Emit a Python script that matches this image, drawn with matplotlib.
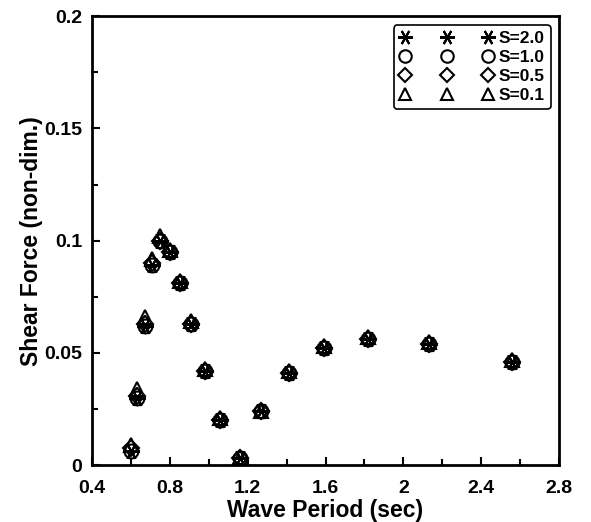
import matplotlib.pyplot as plt
from matplotlib.ticker import MultipleLocator

plt.rcParams['font.family'] = ['Liberation Sans', 'DejaVu Sans']
plt.rcParams['font.weight'] = 'bold'

# wave period (sec)
period = [0.60, 0.63, 0.67, 0.71, 0.75, 0.80, 0.85, 0.91, 0.98, 1.06,
          1.16, 1.27, 1.41, 1.59, 1.82, 2.13, 2.56]

# shear force (non-dim.) for each S
s20 = [0.0062, 0.030, 0.062, 0.089, 0.100, 0.095, 0.081, 0.063, 0.042, 0.020,
       0.0033, 0.024, 0.041, 0.052, 0.056, 0.054, 0.046]
s10 = [0.0065, 0.030, 0.062, 0.089, 0.100, 0.095, 0.081, 0.063, 0.042, 0.020,
       0.0033, 0.024, 0.041, 0.052, 0.056, 0.054, 0.046]
s05 = [0.0075, 0.031, 0.063, 0.090, 0.100, 0.095, 0.081, 0.063, 0.042, 0.020,
       0.0033, 0.024, 0.041, 0.052, 0.056, 0.054, 0.046]
s01 = [0.0090, 0.034, 0.066, 0.092, 0.102, 0.096, 0.082, 0.064, 0.043, 0.021,
       0.0036, 0.024, 0.042, 0.053, 0.057, 0.055, 0.047]

series = [('S=2.0', s20, (6, 2, 90)), ('S=1.0', s10, 'o'),
          ('S=0.5', s05, 'D'), ('S=0.1', s01, '^')]
sizes = {'S=2.0': 12, 'S=1.0': 10, 'S=0.5': 8, 'S=0.1': 10}

fig = plt.figure(figsize=(5.91, 5.22), dpi=100)
ax = fig.add_axes([0.1557, 0.109, 0.7903, 0.860])

for name, vals, mk in series:
    ax.plot(period, vals, linestyle='none', marker=mk, markersize=sizes[name],
            markerfacecolor='none', markeredgecolor='black',
            markeredgewidth=1.5, label=name)

ax.set_xlim(0.4, 2.8)
ax.set_ylim(0, 0.2)
ax.xaxis.set_minor_locator(MultipleLocator(0.2))
ax.yaxis.set_minor_locator(MultipleLocator(0.025))
ax.set_xticks([0.4, 0.8, 1.2, 1.6, 2.0, 2.4, 2.8])
ax.set_xticklabels(['0.4', '0.8', '1.2', '1.6', '2', '2.4', '2.8'])
ax.set_yticks([0, 0.05, 0.1, 0.15, 0.2])
ax.set_yticklabels(['0', '0.05', '0.1', '0.15', '0.2'])
ax.tick_params(which='both', direction='in', width=1.5, labelsize=14, pad=7)
ax.tick_params(axis='x', which='both', pad=11)
ax.tick_params(which='major', length=6)
ax.tick_params(which='minor', length=4)
for sp in ax.spines.values():
    sp.set_linewidth(2)

ax.set_xlabel('Wave Period (sec)', fontsize=16.5, fontweight='bold', labelpad=1)
ax.set_ylabel('Shear Force (non-dim.)', fontsize=16.5, fontweight='bold', labelpad=1)

leg = ax.legend(loc='upper right', numpoints=3, handlelength=5.4,
                fontsize=12.5, frameon=True, fancybox=True, borderpad=0.35,
                labelspacing=0.22, handletextpad=0.3, markerscale=0.9,
                borderaxespad=0, bbox_to_anchor=(0.982, 0.98))
leg.get_frame().set_edgecolor('black')
leg.get_frame().set_linewidth(1.2)
leg.get_frame().set_alpha(1)

fig.savefig('out.png', dpi=100)
